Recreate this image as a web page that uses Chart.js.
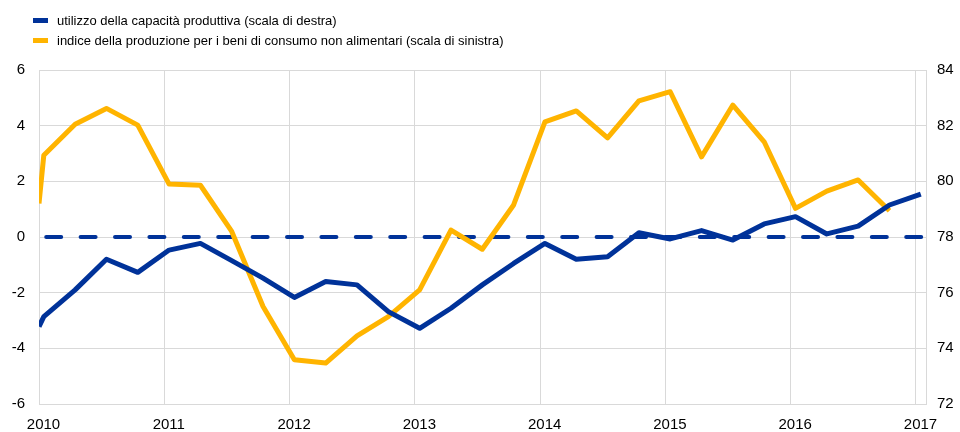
<!DOCTYPE html>
<html>
<head>
<meta charset="utf-8">
<script src="https://cdn.jsdelivr.net/npm/chart.js@4/dist/chart.umd.min.js"></script>
<style>
  body { margin: 0; background: #fff; }
  #wrap { position: relative; width: 960px; height: 432px; }
  #legend { position: absolute; left: 33px; top: 10px; font: 13px "Liberation Sans", Arial, sans-serif; color: #000; }
  .item { display: flex; align-items: center; height: 20.5px; }
  .box { width: 15px; height: 5px; margin-right: 9px; }
</style>
</head>
<body>
<div id="wrap">
  <canvas id="chart" width="960" height="432"></canvas>
  <div id="legend"></div>
</div>
<script>
// quarterly observations (first point = where the series enters the plot at 1 Jan 2010)
const dates = [
  '2010-01-01', '2010-01-15', '2010-04-15', '2010-07-15', '2010-10-15',
  '2011-01-15', '2011-04-15', '2011-07-15', '2011-10-15',
  '2012-01-15', '2012-04-15', '2012-07-15', '2012-10-15',
  '2013-01-15', '2013-04-15', '2013-07-15', '2013-10-15',
  '2014-01-15', '2014-04-15', '2014-07-15', '2014-10-15',
  '2015-01-15', '2015-04-15', '2015-07-15', '2015-10-15',
  '2016-01-15', '2016-04-15', '2016-07-15', '2016-10-15',
  '2017-01-15'
]

// capacity utilisation, right scale
const capacityUtil = [
  74.78, 75.14, 76.10, 77.20, 76.73,
  77.53, 77.77, 77.15, 76.52,
  75.83, 76.40, 76.28, 75.32,
  74.72, 75.44, 76.28, 77.05,
  77.77, 77.20, 77.29, 78.15,
  77.93, 78.23, 77.89, 78.47,
  78.73, 78.11, 78.39, 79.15,
  79.54
]

// production index non-food consumer goods, left scale
const productionIdx = [
  1.20, 2.94, 4.05, 4.62, 4.02,
  1.90, 1.86, 0.20, -2.50,
  -4.41, -4.53, -3.55, -2.86,
  -1.90, 0.25, -0.44, 1.15,
  4.14, 4.53, 3.56, 4.89,
  5.22, 2.88, 4.74, 3.42,
  1.03, 1.65, 2.05, 0.94,
  null
]

// dashed reference line (right scale)
const refDates = ['2010-01-22', '2017-01-20']
const refValues = [78, 78]

const seriesNames = [
  'utilizzo della capacità produttiva (scala di destra)',
  'indice della produzione per i beni di consumo non alimentari (scala di sinistra)'
]
const yearTicks = [2010, 2011, 2012, 2013, 2014, 2015, 2016, 2017]

const BLUE = '#003299'
const YELLOW = '#ffb400'
const GRID = '#d9d9d9'

// date string -> decimal year
function toYear(d) {
  const [y, m, day] = d.split('-').map(Number)
  return y + (m - 1) / 12 + (day - 1) / 365
}

function pairs(ds, vals) {
  return ds.map((d, i) => ({ x: toYear(d), y: vals[i] }))
}

const tickFont = { family: '"Liberation Sans", Arial, sans-serif', size: 15 }

new Chart(document.getElementById('chart'), {
  type: 'line',
  data: {
    datasets: [
      {
        label: seriesNames[0],
        data: pairs(dates, capacityUtil),
        yAxisID: 'y1',
        borderColor: BLUE,
        backgroundColor: BLUE,
        borderWidth: 5,
        pointRadius: 0,
        borderJoinStyle: 'round'
      },
      {
        label: seriesNames[1],
        data: pairs(dates, productionIdx),
        yAxisID: 'y',
        borderColor: YELLOW,
        backgroundColor: YELLOW,
        borderWidth: 5,
        pointRadius: 0,
        borderJoinStyle: 'round'
      },
      {
        label: 'ref',
        data: pairs(refDates, refValues),
        yAxisID: 'y1',
        borderColor: BLUE,
        borderWidth: 4,
        borderDash: [15, 19.4],
        borderCapStyle: 'round',
        pointRadius: 0
      }
    ]
  },
  options: {
    responsive: false,
    animation: false,
    devicePixelRatio: 1,
    layout: { padding: { top: 70, left: 0, right: 0, bottom: 0 } },
    plugins: {
      legend: { display: false },
      tooltip: { enabled: false }
    },
    scales: {
      x: {
        type: 'linear',
        min: 2010,
        max: 2017.08,
        afterFit: s => { s.height = 28 },
        afterBuildTicks: s => { s.ticks = yearTicks.map(v => ({ value: v })) },
        ticks: {
          stepSize: 1,
          includeBounds: false,
          autoSkip: false,
          maxRotation: 0,
          labelOffset: 4.5,
          padding: 12,
          color: '#000',
          font: tickFont,
          callback: v => String(v)
        },
        grid: { color: GRID, drawTicks: false },
        border: { color: GRID }
      },
      y: {
        position: 'left',
        min: -6,
        max: 6,
        afterFit: s => { s.width = 39 },
        ticks: { stepSize: 2, padding: 14, color: '#000', font: tickFont },
        grid: { color: GRID, drawTicks: false },
        border: { color: GRID }
      },
      y1: {
        position: 'right',
        min: 72,
        max: 84,
        afterFit: s => { s.width = 34 },
        ticks: { stepSize: 2, padding: 11, color: '#000', font: tickFont },
        grid: { drawOnChartArea: false, drawTicks: false },
        border: { color: GRID }
      }
    }
  }
})

// legend: one entry per line
const legend = document.getElementById('legend')
const legendColors = [BLUE, YELLOW]
seriesNames.forEach((name, i) => {
  const row = document.createElement('div')
  row.className = 'item'
  const box = document.createElement('span')
  box.className = 'box'
  box.style.background = legendColors[i]
  const txt = document.createElement('span')
  txt.textContent = name
  row.append(box, txt)
  legend.append(row)
})
</script>
</body>
</html>
